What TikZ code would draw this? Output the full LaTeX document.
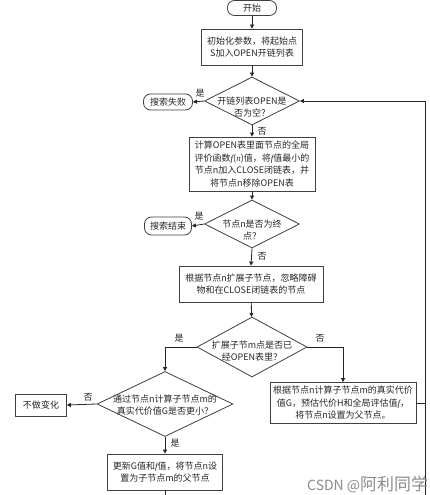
\documentclass[tikz,border=0pt]{standalone}
\usepackage{fontspec}
\setmainfont{Noto Sans CJK SC}
\newfontfamily\latf{Liberation Serif}
\usetikzlibrary{shapes.geometric,arrows.meta}
\newcommand\itf[1]{{\latf\itshape #1}}
\begin{document}
\begin{tikzpicture}[x=1pt,y=-1pt,
 every node/.style={font=\fontsize{9}{12.5}\selectfont, text=black!85},
 proc/.style={draw=black!75, line width=0.8pt, align=center, inner sep=1pt},
 term/.style={draw=black!75, line width=0.8pt, rounded corners=7pt, align=center, inner sep=1pt},
 dia/.style={draw=black!75, line width=0.8pt, diamond, inner sep=0pt},
 dtxt/.style={align=center, inner sep=0pt},
 lbl/.style={font=\fontsize{9}{11}\selectfont, inner sep=0pt},
 flow/.style={draw=black!85, line width=0.8pt},
 arr/.style={flow, -{Triangle[length=4pt,width=4pt]}},
]
\useasboundingbox (0,0) rectangle (430,495);
\fill[white] (0,0) rectangle (430,495);

\node[term, minimum width=49pt, minimum height=15pt] (start) at (252,8) {开始};
\node[proc, minimum width=101pt, minimum height=36pt] (init) at (252,47) {初始化参数，将起始点\\S加入OPEN开链列表};
\node[dia, minimum width=95pt, minimum height=48pt] (d1) at (252,101) {};
\node[dtxt] (d1t) at (252,107) {开链列表OPEN是\\否为空？};
\node[term, minimum width=49pt, minimum height=16pt] (fail) at (168,102) {搜索失败};
\node[proc, minimum width=126pt, minimum height=54pt] (calc) at (252,164) {计算OPEN表里面节点的全局\\评价函数\itf{f}(\itf{n})值，将\itf{f}值最小的\\节点n加入CLOSE闭链表，并\\将节点n移除OPEN表};
\node[dia, minimum width=95pt, minimum height=48pt] (d2) at (252,224) {};
\node[dtxt] (d2t) at (252,230) {节点n是否为终\\点？};
\node[term, minimum width=47pt, minimum height=18pt] (end) at (168,226) {搜索结束};
\node[proc, minimum width=144pt, minimum height=36pt] (expand) at (251,284) {根据节点n扩展子节点，忽略障碍\\物和在CLOSE闭链表的节点};
\node[dia, minimum width=110pt, minimum height=60pt] (d3) at (252,347) {};
\node[dtxt] (d3t) at (252,351) {扩展子节m点是否已\\经OPEN表里？};
\node[dia, minimum width=136pt, minimum height=65pt] (d4) at (165,404) {};
\node[dtxt] (d4t) at (165,405) {通过节点n计算子节点m的\\真实代价值G是否更小？};
\node[proc, minimum width=51pt, minimum height=22pt] (nochg) at (41,405) {不做变化};
\node[proc, minimum width=115pt, minimum height=36pt] (set) at (165,472) {更新G值和\itf{f}值，将节点n设\\置为子节点m的父节点};
\node[proc, minimum width=146pt, minimum height=41pt] (upd) at (343,403) {根据节点n计算子节点m的真实代价\\值G，预估代价H和全局评估值\itf{f}，\\将节点n设置为父节点。};

\node[lbl] (l1) at (200,93) {是};
\node[lbl] (l2) at (262,131) {否};
\node[lbl] (l3) at (199,216) {是};
\node[lbl] (l4) at (262,256) {否};
\node[lbl] (l5) at (179,338) {是};
\node[lbl] (l6) at (320,338) {否};
\node[lbl] (l7) at (88,397) {否};
\node[lbl] (l8) at (175,443) {是};

\draw[arr] (start) -- (init);
\draw[arr] (init) -- (d1);
\draw[arr] (d1.west) -- (fail.east);
\draw[arr] (d1.south) -- (calc.north);
\draw[arr] (calc) -- (d2);
\draw[arr] (d2.west) -- (end.east);
\draw[arr] (d2.south) -- (expand.north);
\draw[arr] (expand) -- (d3);
\draw[arr] (d3.west) -| (d4.north);
\draw[arr] (d3.east) -| (upd.north);
\draw[arr] (d4.west) -- (nochg.east);
\draw[arr] (d4.south) -- (set.north);
\coordinate (bot1) at (165,500);
\draw[flow] (set.south) -- (bot1);
\coordinate (loopB) at (425,500);
\coordinate (loopT) at (425,101);
\draw[arr] (loopB) -- (loopT) -- (d1.east);
\coordinate (j) at (425,403);
\draw[flow] (upd.east) -- (j);

\node[anchor=west, text=black!45, inner sep=0pt] (wm) at (307,484) {{\fontsize{14}{14}\selectfont CSDN @}{\fontsize{17}{17}\selectfont 阿利同学}};
\end{tikzpicture}
\end{document}
